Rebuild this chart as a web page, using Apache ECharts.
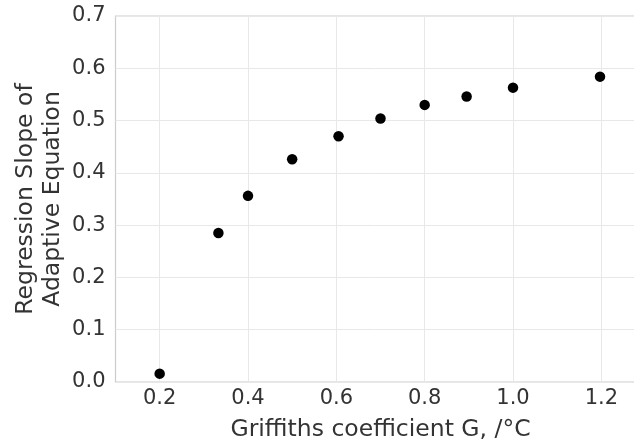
<!DOCTYPE html>
<html>
<head>
<meta charset="utf-8">
<style>
  html, body { margin: 0; padding: 0; background: #ffffff; }
  #chart { width: 634px; height: 445px; }
</style>
<script src="https://cdn.jsdelivr.net/npm/echarts@6/dist/echarts.min.js"></script>
</head>
<body>
<div id="chart"></div>
<script>
// Griffiths coefficient G (/°C) and the regression slope of the adaptive equation
const griffithsG = [0.2, 0.333, 0.4, 0.5, 0.605, 0.7, 0.8, 0.895, 1.0, 1.197];
const regressionSlope = [0.016, 0.285, 0.356, 0.426, 0.470, 0.504, 0.530, 0.546, 0.563, 0.584];

const xTicks = [0.2, 0.4, 0.6, 0.8, 1.0, 1.2];
const yTicks = [0.0, 0.1, 0.2, 0.3, 0.4, 0.5, 0.6, 0.7];

const FONT = 'DejaVu Sans';
const TEXT = '#333333';

const chart = echarts.init(document.getElementById('chart'), null, { renderer: 'canvas' });

chart.setOption({
  animation: false,
  backgroundColor: '#ffffff',
  grid: {
    left: 115.5, right: -11.5, top: 16, bottom: 63,
    outerBoundsMode: 'none',
    containLabel: false,
    show: true, borderColor: '#cccccc', borderWidth: 1.2, backgroundColor: 'transparent'
  },
  xAxis: {
    type: 'value',
    min: 0.1,
    max: 1.3,
    name: 'Griffiths coefficient G, /°C',
    nameLocation: 'middle',
    nameGap: 36,
    nameMoveOverlap: false,
    nameTextStyle: { fontFamily: FONT, fontSize: 23.5, color: TEXT },
    axisLine: { show: false },
    axisTick: { show: false, customValues: xTicks },
    axisLabel: {
      customValues: xTicks,
      fontFamily: FONT, fontSize: 21, color: TEXT, margin: 6,
      formatter: v => v.toFixed(1)
    },
    splitLine: { show: true, lineStyle: { color: '#e8e8e8', width: 1 } }
  },
  yAxis: {
    type: 'value',
    min: 0,
    max: 0.7,
    interval: 0.1,
    name: 'Regression Slope of\nAdaptive Equation',
    nameLocation: 'middle',
    nameRotate: 90,
    nameGap: 49,
    nameMoveOverlap: false,
    nameTextStyle: { fontFamily: FONT, fontSize: 23.5, color: TEXT, lineHeight: 27, align: 'center' },
    axisLine: { show: false },
    axisTick: { show: false },
    axisLabel: {
      customValues: yTicks,
      fontFamily: FONT, fontSize: 21, color: TEXT, margin: 10,
      formatter: v => v.toFixed(1)
    },
    splitLine: { show: true, lineStyle: { color: '#e8e8e8', width: 1 } }
  },
  series: [{
    type: 'scatter',
    data: griffithsG.map((g, i) => [g, regressionSlope[i]]),
    symbol: 'circle',
    symbolSize: 10.5,
    itemStyle: { color: '#000000', opacity: 1 },
    z: 5
  }]
});
</script>
</body>
</html>
